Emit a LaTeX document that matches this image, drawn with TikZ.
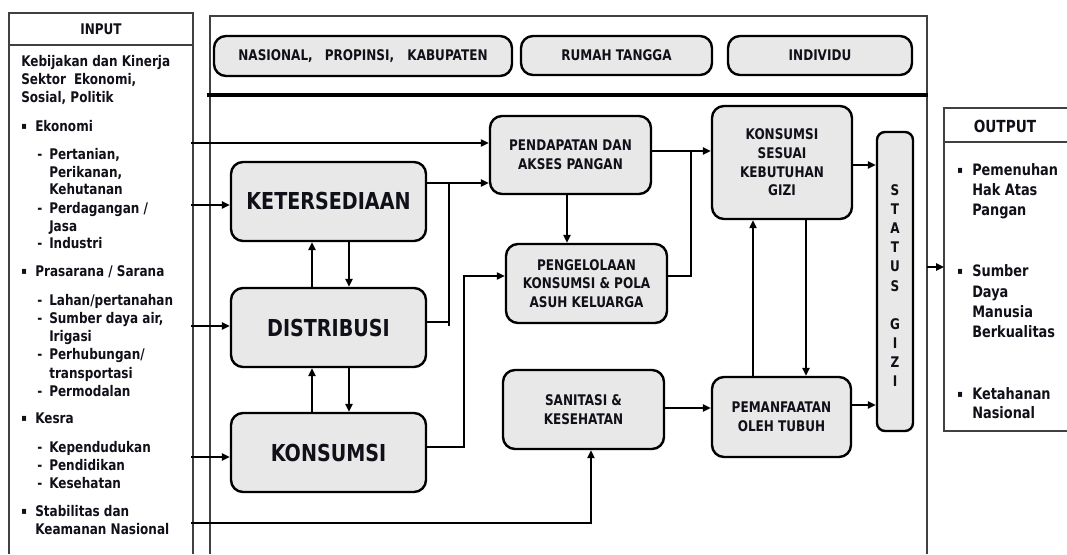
\documentclass[tikz,border=0pt]{standalone}
\usepackage{fontspec}
\setmainfont{DejaVu Sans}[FakeStretch=0.82]
\usetikzlibrary{arrows.meta}
\definecolor{boxgray}{HTML}{E8E8E8}
\definecolor{ink}{HTML}{101018}
\newcommand\sqbul{\raisebox{1.8pt}{\fontsize{7.5}{8}\selectfont ▪}}
\begin{document}
\begin{tikzpicture}[x=0.75pt,y=-0.75pt,
  box/.style={draw=black, line width=1.8pt, fill=boxgray, rounded corners=9pt, align=center, inner sep=0pt, text=ink,
    font=\bfseries\fontsize{11}{14}\selectfont},
  big/.style={font=\bfseries\fontsize{17.5}{20}\selectfont},
  conn/.style={line width=1.3pt, -{Triangle[length=6pt,width=5.5pt]}},
  tconn/.style={line width=0.9pt, -{Triangle[length=6pt,width=5.5pt]}},
  wire/.style={line width=1.3pt},
  panel/.style={draw=black!75, line width=0.8pt},
  tl/.style={anchor=base west, inner sep=0pt, text=ink, font=\bfseries\fontsize{11}{13}\selectfont},
  ol/.style={anchor=base west, inner sep=0pt, text=ink, font=\bfseries\fontsize{11.8}{15}\selectfont},
  hd/.style={inner sep=0pt, text=ink, font=\bfseries\fontsize{11}{13}\selectfont},
]
\useasboundingbox (0,0) rectangle (1067,554);

% ---------- panels ----------
\draw[panel] (9,554) -- (9,13) -- (193,13) -- (193,554);
\draw[panel] (9,45) -- (193,45);
\node[hd] (inputhd) at (101,29) {INPUT};

\draw[panel] (210,554) -- (210,16) -- (927,16) -- (927,554);
\draw[line width=2.3pt] (207,95) -- (928,95);

\draw[panel] (1067,108) -- (944,108) -- (944,431) -- (1067,431);
\draw[panel] (944,142) -- (1067,142);
\node[hd, font=\bfseries\fontsize{12.5}{14}\selectfont] (outputhd) at (1005,126) {OUTPUT};

% ---------- level boxes ----------
\node[box, minimum width=223.5pt, minimum height=30pt] (NAS) at (363,56) {NASIONAL,\hspace{9pt}PROPINSI,\hspace{10pt}KABUPATEN};
\node[box, minimum width=143.25pt, minimum height=29.25pt] (RT) at (616.5,55.5) {RUMAH TANGGA};
\node[box, minimum width=138pt, minimum height=29.25pt] (IND) at (820,55.5) {INDIVIDU};

% ---------- main boxes ----------
\node[box, big, minimum width=146.25pt, minimum height=59.25pt] (KET) at (328.5,201.5) {KETERSEDIAAN};
\node[box, big, minimum width=146.25pt, minimum height=59.25pt] (DIS) at (328.5,327.5) {DISTRIBUSI};
\node[box, big, minimum width=146.25pt, minimum height=59.25pt] (KON) at (328.5,452.5) {KONSUMSI};
\node[box, minimum width=120.75pt, minimum height=58.5pt] (PEN) at (570.5,155) {PENDAPATAN DAN\\AKSES PANGAN};
\node[box, minimum width=120.75pt, minimum height=59.25pt] (PGL) at (586.5,283.5) {PENGELOLAAN\\KONSUMSI \& POLA\\ASUH KELUARGA};
\node[box, minimum width=120.75pt, minimum height=59.25pt] (SAN) at (583.5,409.5) {SANITASI \&\\KESEHATAN};
\node[box, minimum width=105pt, minimum height=84.75pt] (KSK) at (782,162.5) {KONSUMSI\\SESUAI\\KEBUTUHAN\\GIZI};
\node[box, minimum width=104.25pt, minimum height=60pt] (PEM) at (781.5,417) {PEMANFAATAN\\OLEH TUBUH};
\node[box, rounded corners=6pt, minimum width=27pt, minimum height=224.25pt, font=\bfseries\fontsize{11}{14.3}\selectfont] (STA) at (895,281.5)
  {\\S\\T\\A\\T\\U\\S\\\mbox{}\\G\\I\\Z\\I};

% ---------- input texts ----------
\node[tl] (t1) at (21,66.5) {Kebijakan dan Kinerja};
\node[tl] (t2) at (21,84.5) {Sektor\hspace{6pt}Ekonomi,};
\node[tl] (t3) at (21,102.5) {Sosial, Politik};
\node[tl] (b1) at (21,131.5) {\sqbul};
\node[tl] (t4) at (35,131.5) {Ekonomi};
\node[tl] (d1) at (37,159.5) {-};
\node[tl] (t5) at (49,159.5) {Pertanian,};
\node[tl] (t6) at (49,177.5) {Perikanan,};
\node[tl] (t7) at (49,194.5) {Kehutanan};
\node[tl] (d2) at (37,213.5) {-};
\node[tl] (t8) at (49,213.5) {Perdagangan /};
\node[tl] (t9) at (49,231.5) {Jasa};
\node[tl] (d3) at (37,248.5) {-};
\node[tl] (t10) at (49,248.5) {Industri};
\node[tl] (b2) at (21,276.5) {\sqbul};
\node[tl] (t11) at (35,276.5) {Prasarana / Sarana};
\node[tl] (d4) at (37,305.5) {-};
\node[tl] (t12) at (49,305.5) {Lahan/pertanahan};
\node[tl] (d5) at (37,323.5) {-};
\node[tl] (t13) at (49,323.5) {Sumber daya air,};
\node[tl] (t14) at (49,341.5) {Irigasi};
\node[tl] (d6) at (37,359.5) {-};
\node[tl] (t15) at (49,359.5) {Perhubungan/};
\node[tl] (t16) at (49,378.5) {transportasi};
\node[tl] (d7) at (37,396.5) {-};
\node[tl] (t17) at (49,396.5) {Permodalan};
\node[tl] (b3) at (21,423.5) {\sqbul};
\node[tl] (t18) at (35,423.5) {Kesra};
\node[tl] (d8) at (37,452.5) {-};
\node[tl] (t19) at (49,452.5) {Kependudukan};
\node[tl] (d9) at (37,470.5) {-};
\node[tl] (t20) at (49,470.5) {Pendidikan};
\node[tl] (d10) at (37,488.5) {-};
\node[tl] (t21) at (49,488.5) {Kesehatan};
\node[tl] (b4) at (21,516.5) {\sqbul};
\node[tl] (t22) at (35,516.5) {Stabilitas dan};
\node[tl] (t23) at (35,534.5) {Keamanan Nasional};

% ---------- output texts ----------
\node[ol] (ob1) at (957,175.5) {\sqbul};
\node[ol] (o1) at (972,175.5) {Pemenuhan};
\node[ol] (o2) at (972,195.5) {Hak Atas};
\node[ol] (o3) at (972,215.5) {Pangan};
\node[ol] (ob2) at (957,276.5) {\sqbul};
\node[ol] (o4) at (972,276.5) {Sumber};
\node[ol] (o5) at (972,297.5) {Daya};
\node[ol] (o6) at (972,317.5) {Manusia};
\node[ol] (o7) at (972,337.5) {Berkualitas};
\node[ol] (ob3) at (957,399.5) {\sqbul};
\node[ol] (o8) at (972,399.5) {Ketahanan};
\node[ol] (o9) at (972,418.5) {Nasional};

% ---------- connector end points ----------
\coordinate (in1) at (191,143);
\coordinate (in2) at (191,205);
\coordinate (in3) at (191,326);
\coordinate (in4) at (191,457);
\coordinate (in5) at (191,523);
\coordinate (jA) at (449,183);
\coordinate (jB) at (449,326);
\coordinate (jC) at (464,447);
\coordinate (jD) at (464,276);
\coordinate (jE) at (691,276);
\coordinate (jF) at (691,151);
\coordinate (fr) at (927,267);
\coordinate (outin) at (944,267);

% ---------- connectors ----------
\draw[tconn] (in1) -- (PEN.west |- in1);
\draw[conn] (in2) -- (KET.west |- in2);
\draw[conn] (in3) -- (DIS.west |- in3);
\draw[conn] (in4) -- (KON.west |- in4);
\draw[tconn] (in5) -| ([xshift=5.6pt]SAN.south);

\draw[conn] (KET.east |- jA) -- (PEN.west |- jA);
\draw[wire] (jA) -- (jB);
\draw[wire] (DIS.east |- 0,322) -- (449,322);
\draw[tconn] (KON.east |- jC) -- (jC) -- (jD) -- (PGL.west |- jD);

\draw[conn] (PEN.south -| 567,0) -- (PGL.north -| 567,0);
\draw[conn] (PEN.east |- jF) -- (KSK.west |- jF);
\draw[wire] (PGL.east |- jE) -- (jE) -- (jF);

\draw[conn] (DIS.north -| 312,0) -- (KET.south -| 312,0);
\draw[conn] (KET.south -| 349,0) -- (DIS.north -| 349,0);
\draw[conn] (KON.north -| 312,0) -- (DIS.south -| 312,0);
\draw[conn] (DIS.south -| 349,0) -- (KON.north -| 349,0);

\draw[conn] (KSK.east |- 0,165) -- (STA.west |- 0,165);
\draw[conn] (PEM.east |- 0,405) -- (STA.west |- 0,405);
\draw[conn] (SAN.east |- 0,408) -- (PEM.west |- 0,408);
\draw[tconn] (PEM.north -| 753,0) -- (KSK.south -| 753,0);
\draw[conn] (KSK.south -| 806,0) -- (PEM.north -| 806,0);

\draw[conn] (fr) -- (outin);
\end{tikzpicture}
\end{document}
